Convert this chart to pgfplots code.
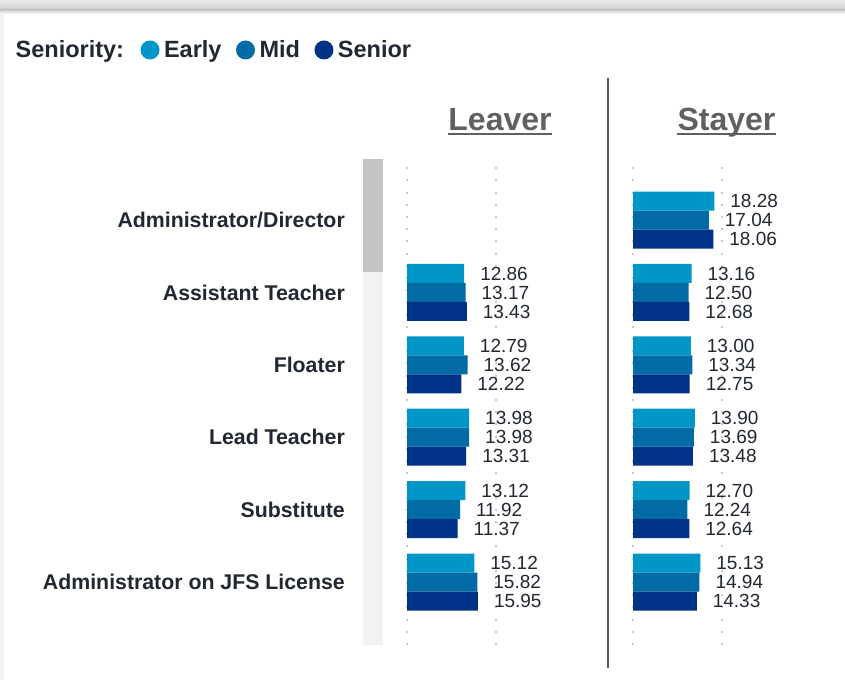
\documentclass[border=0pt]{standalone}
\usepackage{fontspec}
\setmainfont{Liberation Sans}
\usepackage{pgfplots}
\pgfplotsset{compat=1.18}
\definecolor{early}{HTML}{0096C8}
\definecolor{mid}{HTML}{006BA4}
\definecolor{senior}{HTML}{003287}
\definecolor{txt}{HTML}{222831}
\definecolor{ttl}{HTML}{606060}
\definecolor{gridc}{HTML}{C8C8C8}
\definecolor{track}{HTML}{F2F2F2}
\definecolor{thumb}{HTML}{C4C4C4}
\definecolor{sep}{HTML}{5A5A5A}
\begin{document}
\begin{tikzpicture}[x=1pt,y=1pt]
\useasboundingbox (0,0) rectangle (845,680);
\fill[white] (0,0) rectangle (845,680);
% top card shadow and left page edge
\shade[top color=white!92!black, bottom color=white!80!black] (0,670) rectangle (845,680);
\shade[top color=white!80!black, bottom color=white] (0,666) rectangle (845,670);
\fill[white!95!black] (0,0) rectangle (4,668);
% scrollbar
\fill[track] (363,35) rectangle (383,520);
\fill[thumb] (363,408) rectangle (383,521);
% separator
\draw[sep, line width=2.5pt] (608,12) -- (608,602);
% titles
\node[anchor=base, inner sep=0pt, text=ttl, font=\fontsize{32}{36}\selectfont\bfseries] (t1) at (500,549) {Leaver};
\draw[ttl, line width=2.4pt] ([yshift=-2.8pt]t1.base west) -- ([yshift=-2.8pt]t1.base east);
\node[anchor=base, inner sep=0pt, text=ttl, font=\fontsize{32}{36}\selectfont\bfseries] (t2) at (726.5,549) {Stayer};
\draw[ttl, line width=2.4pt] ([yshift=-2.8pt]t2.base west) -- ([yshift=-2.8pt]t2.base east);

\pgfplotsset{
  panel/.style={
    anchor=south west,
    scale only axis,
    width=178pt, height=485pt,
    xmin=0, xmax=40,
    ymin=-0.87, ymax=5.83,
    xbar, bar width=19pt,
    clip=false,
    axis line style={draw=none},
    major tick length=0pt,
    xtick={0,20}, xticklabels={},
    xmajorgrids,
    grid style={gridc, line width=2pt, dash pattern=on 2pt off 10.2pt},
    nodes near coords={\pgfmathprintnumber[fixed,fixed zerofill,precision=2]{\pgfplotspointmeta}},
    nodes near coords style={anchor=west, xshift=12.5pt, text=txt, font=\fontsize{19}{21}\selectfont},
    /pgf/number format/assume math mode=true,
    every axis plot/.append style={draw=none},
  },
}

% Leaver panel
\begin{axis}[panel,
  at={(407pt,35pt)},
  ytick={0,1,2,3,4,5},
  yticklabels={Administrator on JFS License,Substitute,Lead Teacher,Floater,Assistant Teacher,Administrator/Director},
  yticklabel style={anchor=east, inner sep=0pt, xshift=-62pt, text=txt, font=\fontsize{21.3}{25}\selectfont\bfseries},
  legend style={at={(-2.225,1.2268)}, anchor=west, draw=none, fill=none,
    font=\fontsize{23.5}{27}\selectfont\bfseries, text=txt,
    /tikz/every even column/.append style={column sep=12.5pt},
    /tikz/every odd column/.append style={column sep=2.5pt},
    inner sep=0pt},
  legend columns=-1,
  legend cell align=left,
]
\addlegendimage{empty legend}
\addlegendentry{Seniority:\hspace*{2pt}}
\addplot[fill=early, bar shift=19pt, legend image code/.code={\fill[early] (9.5pt,0pt) circle (9.5pt);}] coordinates {(15.12,0) (13.12,1) (13.98,2) (12.79,3) (12.86,4)};
\addlegendentry{Early}
\addplot[fill=mid, bar shift=0pt, legend image code/.code={\fill[mid] (9.5pt,0pt) circle (9.5pt);}] coordinates {(15.82,0) (11.92,1) (13.98,2) (13.62,3) (13.17,4)};
\addlegendentry{Mid}
\addplot[fill=senior, bar shift=-19pt, legend image code/.code={\fill[senior] (9.5pt,0pt) circle (9.5pt);}] coordinates {(15.95,0) (11.37,1) (13.31,2) (12.22,3) (13.43,4)};
\addlegendentry{Senior}
\end{axis}

% Stayer panel
\begin{axis}[panel,
  at={(633pt,35pt)},
  ytick=\empty,
]
\addplot[fill=early, bar shift=19pt] coordinates {(15.13,0) (12.70,1) (13.90,2) (13.00,3) (13.16,4) (18.28,5)};
\addplot[fill=mid, bar shift=0pt] coordinates {(14.94,0) (12.24,1) (13.69,2) (13.34,3) (12.50,4) (17.04,5)};
\addplot[fill=senior, bar shift=-19pt] coordinates {(14.33,0) (12.64,1) (13.48,2) (12.75,3) (12.68,4) (18.06,5)};
\end{axis}
\end{tikzpicture}
\end{document}
